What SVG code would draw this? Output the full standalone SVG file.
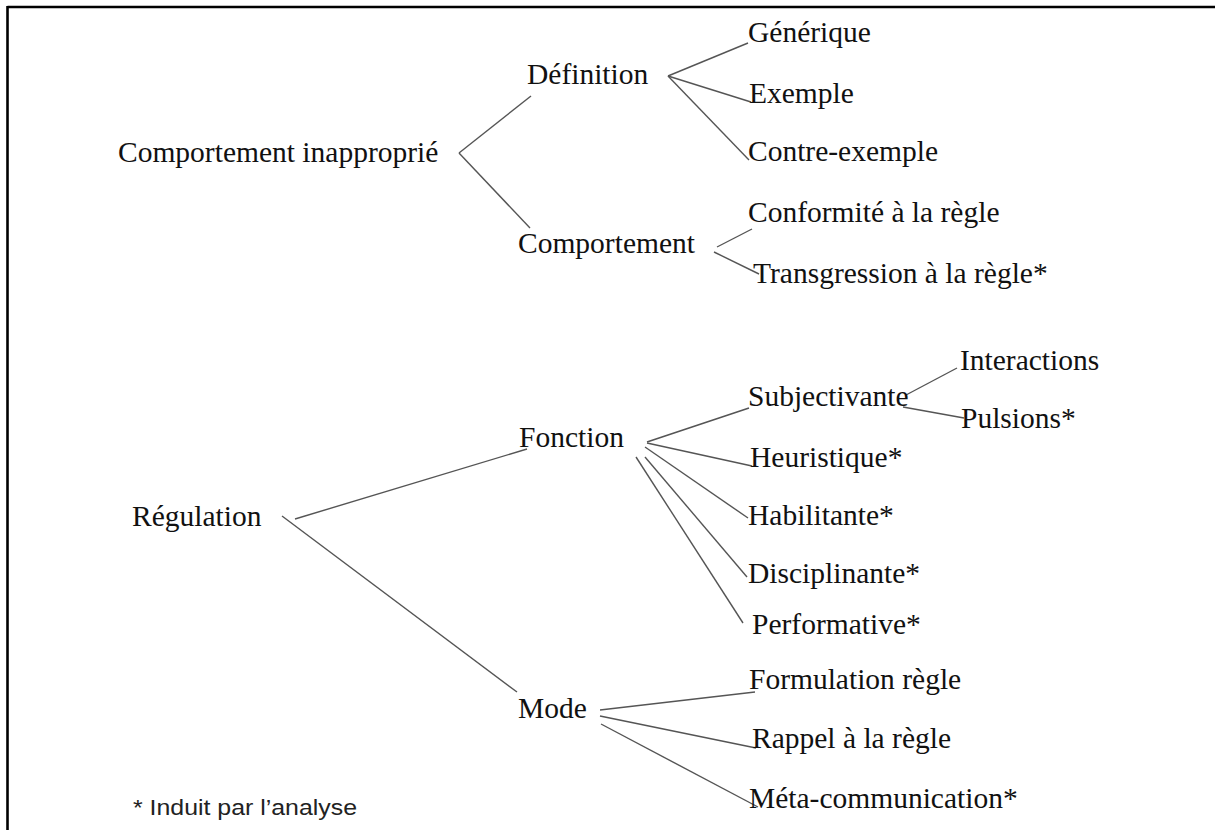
<svg xmlns="http://www.w3.org/2000/svg" width="1215" height="830" viewBox="0 0 1215 830">
<style>
.t{font-family:"Liberation Serif","Times New Roman",serif;font-size:29.5px;fill:#111}
.n{font-family:"Liberation Sans",Arial,sans-serif;font-size:22px;fill:#222}
.c line{stroke:#555;stroke-width:1.4;fill:none}
.frame{stroke:#000;stroke-width:2.6}
</style>
<rect width="1215" height="830" fill="#fff"/>
<g id="frame">
<line class="frame" x1="7.5" y1="7" x2="1215" y2="7"/>
<line class="frame" x1="7.5" y1="6" x2="7.5" y2="830"/>
</g>
<g class="c" id="connectors">
<line x1="459" y1="153" x2="531" y2="96"/>
<line x1="459" y1="153" x2="530" y2="228"/>
<line x1="668" y1="76" x2="748" y2="43"/>
<line x1="668" y1="76" x2="751" y2="102"/>
<line x1="668" y1="76" x2="749" y2="160"/>
<line x1="717" y1="247" x2="752" y2="229"/>
<line x1="714" y1="252" x2="759" y2="274"/>
<line x1="295" y1="519" x2="527" y2="449"/>
<line x1="282" y1="516" x2="517" y2="692"/>
<line x1="647" y1="442" x2="749" y2="408"/>
<line x1="647" y1="443" x2="752" y2="466"/>
<line x1="645" y1="447" x2="748" y2="518"/>
<line x1="645" y1="457" x2="747" y2="577"/>
<line x1="636" y1="457" x2="743" y2="623"/>
<line x1="906" y1="395" x2="957" y2="368"/>
<line x1="903" y1="407" x2="964" y2="418"/>
<line x1="600" y1="710" x2="755" y2="692"/>
<line x1="600" y1="716" x2="756" y2="748"/>
<line x1="601" y1="724" x2="758" y2="807"/>
</g>
<g id="n-comportement-inapproprie"><text class="t" x="118" y="162">Comportement inapproprié</text></g>
<g id="n-definition"><text class="t" x="527" y="84">Définition</text></g>
<g id="n-comportement"><text class="t" x="518" y="253">Comportement</text></g>
<g id="n-generique"><text class="t" x="748" y="42">Générique</text></g>
<g id="n-exemple"><text class="t" x="749" y="103">Exemple</text></g>
<g id="n-contre-exemple"><text class="t" x="748" y="161">Contre-exemple</text></g>
<g id="n-conformite"><text class="t" x="748" y="222">Conformité à la règle</text></g>
<g id="n-transgression"><text class="t" x="753" y="283">Transgression à la règle*</text></g>
<g id="n-regulation"><text class="t" x="132" y="526">Régulation</text></g>
<g id="n-fonction"><text class="t" x="519" y="447">Fonction</text></g>
<g id="n-subjectivante"><text class="t" x="748" y="406">Subjectivante</text></g>
<g id="n-interactions"><text class="t" x="960" y="370">Interactions</text></g>
<g id="n-pulsions"><text class="t" x="961" y="428">Pulsions*</text></g>
<g id="n-heuristique"><text class="t" x="750" y="467">Heuristique*</text></g>
<g id="n-habilitante"><text class="t" x="748" y="525">Habilitante*</text></g>
<g id="n-disciplinante"><text class="t" x="748" y="583">Disciplinante*</text></g>
<g id="n-performative"><text class="t" x="752" y="634">Performative*</text></g>
<g id="n-mode"><text class="t" x="518" y="718">Mode</text></g>
<g id="n-formulation"><text class="t" x="749" y="689">Formulation règle</text></g>
<g id="n-rappel"><text class="t" x="752" y="748">Rappel à la règle</text></g>
<g id="n-meta"><text class="t" x="749" y="808">Méta-communication*</text></g>
<g id="note"><text class="n" x="133" y="815" textLength="224" lengthAdjust="spacingAndGlyphs">* Induit par l’analyse</text></g>
</svg>
